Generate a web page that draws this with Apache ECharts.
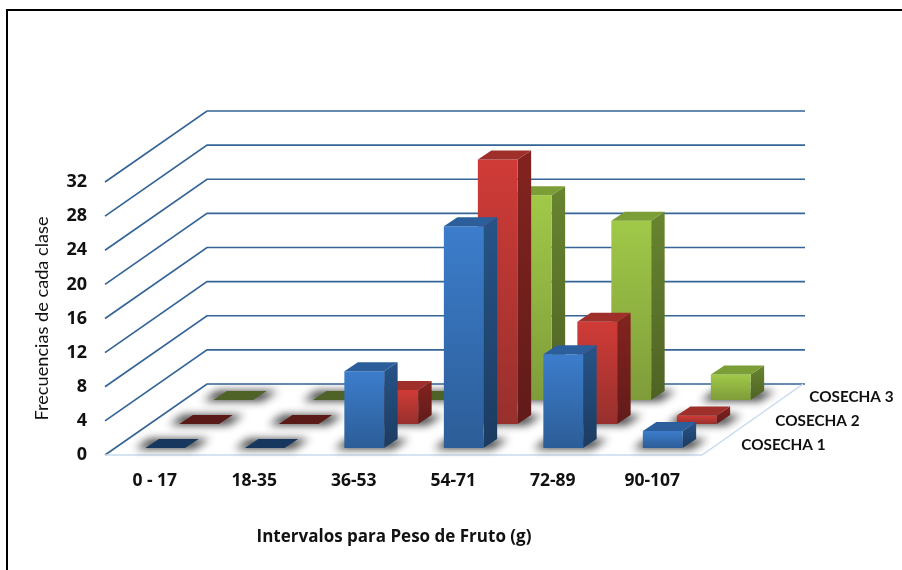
<!DOCTYPE html>
<html><head><meta charset="utf-8">
<style>html,body{margin:0;padding:0;background:#fff}#c{width:902px;height:570px}</style>
<script src="https://cdn.jsdelivr.net/npm/echarts@6/dist/echarts.min.js"></script>
</head><body><div id="c"></div>
<script>
const categories = ['0 - 17','18-35','36-53','54-71','72-89','90-107'];
const cosecha1 = [0,0,9,26,11,2];
const cosecha2 = [0,0,4,31,12,1];
const cosecha3 = [0,0,0,24,21,3];
const seriesNames = ['COSECHA 1','COSECHA 2','COSECHA 3'];
const yTicks = [0,4,8,12,16,20,24,28,32];
const xTitle = 'Intervalos para Peso de Fruto (g)';
const yTitle = 'Frecuencias de cada clase';

const FONT = '"Open Sans"';
const ROW = [34,-24], FLOOR = [102,-71], BASE = [10.5,-7], TOP = [13.5,-9];
const palette = [
 {f:['#3c7dcc','#2c5d97'],s:['#265488','#1c3b60'],t:'#2b5e9b',z:'#17375e'},
 {f:['#d03b37','#97302d'],s:['#84231f','#611b19'],t:'#9e2f2b',z:'#5a1a17'},
 {f:['#a0c948','#7f9c3a'],s:['#688530','#4f6224'],t:'#7c9e36',z:'#4f6228'}
];
const vg = (a,b)=>new echarts.graphic.LinearGradient(0,0,0,1,[{offset:0,color:a},{offset:1,color:b}]);

function wallItem(p, api){
  const v = api.value(0);
  const y = api.coord([0,v])[1];
  const x0 = p.coordSys.x, w = p.coordSys.width;
  return {type:'polyline',shape:{points:[[x0,y],[x0+FLOOR[0],y+FLOOR[1]],[x0+w+FLOOR[0]+1,y+FLOOR[1]]]},
    style:{fill:null,stroke:'#356496',lineWidth:1.7},silent:true};
}
function floorItem(p, api){
  const c = p.coordSys, y = api.coord([0,0])[1];
  return {type:'polyline',shape:{points:[[c.x,y],[c.x+c.width,y],[c.x+c.width+FLOOR[0]-1,y+FLOOR[1]]]},
    style:{fill:null,stroke:'#c9daf0',lineWidth:1.5},silent:true};
}
const OFF = 3000;
function barRenderer(row){
  const col = palette[row];
  return function(p, api){
    const i = api.value(0), v = api.value(1);
    const band = api.size([1,0])[0], w = band*0.4;
    const c0 = api.coord([i,0]), c1 = api.coord([i,v]);
    const ox = BASE[0]+ROW[0]*row, oy = BASE[1]+ROW[1]*row;
    const l = c0[0]-w/2+ox, r = l+w, b = c0[1]+oy, t = c1[1]+oy;
    const dx = TOP[0], dy = TOP[1];
    const kids = [];
    // soft floor shadow: only the blurred shadow of an off-canvas footprint shows
    kids.push({type:'polygon',shape:{points:[[l-10-OFF,b+1],[r+9-OFF,b+1],[r+dx+11-OFF,b+dy],[l+dx-10-OFF,b+dy]]},
      style:{fill:'#000',shadowBlur:8,shadowOffsetX:OFF,shadowColor:'rgba(50,50,50,0.95)'}});
    if(v===0){
      kids.push({type:'polygon',shape:{points:[[l,b],[r,b],[r+dx,b+dy],[l+dx,b+dy]]},style:{fill:col.z}});
    } else {
      kids.push({type:'polygon',shape:{points:[[r,b],[r+dx,b+dy],[r+dx,t+dy],[r,t]]},style:{fill:vg(col.s[0],col.s[1])}});
      kids.push({type:'rect',shape:{x:l,y:t,width:w,height:b-t},style:{fill:vg(col.f[0],col.f[1])}});
      kids.push({type:'polygon',shape:{points:[[l,t],[r,t],[r+dx,t+dy],[l+dx,t+dy]]},style:{fill:col.t}});
    }
    if(i===categories.length-1){
      kids.push({type:'text',style:{text:seriesNames[row],x:c0[0]+BASE[0]+ROW[0]*row+78.5,y:c0[1]-9.5+ROW[1]*row,
        font:'bold 15.3px Lato',fill:'#111',textAlign:'left',textVerticalAlign:'middle'}});
    }
    return {type:'group',children:kids,silent:true};
  };
}
const rows = [cosecha1,cosecha2,cosecha3];
const barSeries = [2,1,0].map(r=>({
  type:'custom',name:seriesNames[r],coordinateSystem:'cartesian2d',clip:false,z:3+(2-r),
  renderItem:barRenderer(r),encode:{x:0,y:1},
  data:rows[r].map((v,i)=>[i,v])
}));
const chart = echarts.init(document.getElementById('c'),null,{renderer:'canvas'});
chart.setOption({
  animation:false,backgroundColor:'#fff',
  graphic:[{type:'polyline',z:0,shape:{points:[[7,570],[7,10],[902,10]]},style:{fill:null,stroke:'#000',lineWidth:2}}],
  grid:{left:105,top:182,width:597,height:273},
  xAxis:{type:'category',data:categories,axisLine:{show:false},axisTick:{show:false},
    axisLabel:{fontFamily:FONT,fontWeight:'bold',fontSize:17.5,color:'#111',margin:17},
    name:xTitle,nameLocation:'middle',nameGap:74,nameTextStyle:{fontFamily:FONT,fontWeight:'bold',fontSize:17,color:'#111',padding:[0,19,0,0]}},
  yAxis:{type:'value',min:0,max:32,interval:4,axisLine:{show:false},axisTick:{show:false},splitLine:{show:false},
    axisLabel:{fontFamily:FONT,fontWeight:'bold',fontSize:18,color:'#111',margin:18,padding:[4,0,0,0]},
    name:yTitle,nameLocation:'middle',nameGap:54,nameTextStyle:{fontFamily:'Lato',fontSize:18.2,color:'#111'}},
  series:[
    {type:'custom',name:'wall',clip:false,z:1,renderItem:wallItem,encode:{y:0},data:yTicks.map(v=>[v])},
    {type:'custom',name:'floor',clip:false,z:1,renderItem:floorItem,data:[[0]]},
    ...barSeries
  ]
});
</script></body></html>
